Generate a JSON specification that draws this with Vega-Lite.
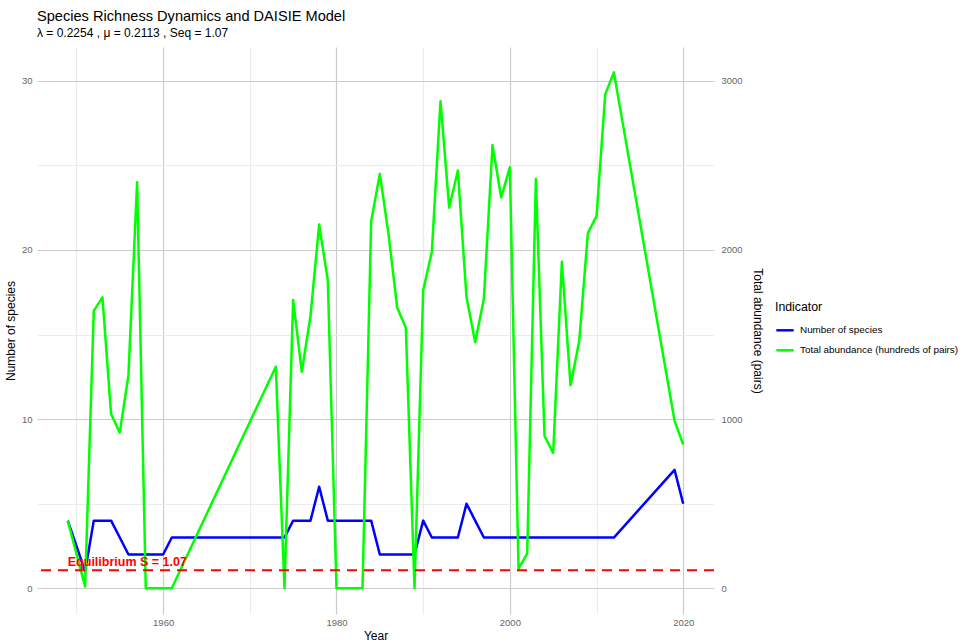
{
  "$schema": "https://vega.github.io/schema/vega-lite/v6.json",
  "width": 677,
  "height": 567,
  "autosize": {"type": "none"},
  "padding": {"left": 37, "top": 47, "right": 249, "bottom": 28},
  "background": "white",
  "config": {
    "font": "Liberation Sans",
    "view": {"stroke": null},
    "axis": {
      "domain": false,
      "ticks": false,
      "labelFontSize": 9.5,
      "labelColor": "#666666",
      "titleFontSize": 12,
      "titleFontWeight": "normal",
      "titleColor": "#000000",
      "gridWidth": 1.2
    }
  },
  "title": {
    "text": "Species Richness Dynamics and DAISIE Model",
    "subtitle": "λ = 0.2254 , μ = 0.2113 , Seq = 1.07",
    "anchor": "start",
    "frame": "group",
    "fontSize": 14.6,
    "fontWeight": "normal",
    "color": "#000000",
    "subtitleFontSize": 12,
    "subtitleColor": "#000000",
    "subtitlePadding": 4,
    "offset": 8
  },
  "datasets": {
    "series": [
      {"year": 1949, "indicator": "Number of species", "value": 4},
      {"year": 1951, "indicator": "Number of species", "value": 1},
      {"year": 1952, "indicator": "Number of species", "value": 4},
      {"year": 1953, "indicator": "Number of species", "value": 4},
      {"year": 1954, "indicator": "Number of species", "value": 4},
      {"year": 1955, "indicator": "Number of species", "value": 3},
      {"year": 1956, "indicator": "Number of species", "value": 2},
      {"year": 1957, "indicator": "Number of species", "value": 2},
      {"year": 1958, "indicator": "Number of species", "value": 2},
      {"year": 1959, "indicator": "Number of species", "value": 2},
      {"year": 1960, "indicator": "Number of species", "value": 2},
      {"year": 1961, "indicator": "Number of species", "value": 3},
      {"year": 1973, "indicator": "Number of species", "value": 3},
      {"year": 1974, "indicator": "Number of species", "value": 3},
      {"year": 1975, "indicator": "Number of species", "value": 4},
      {"year": 1976, "indicator": "Number of species", "value": 4},
      {"year": 1977, "indicator": "Number of species", "value": 4},
      {"year": 1978, "indicator": "Number of species", "value": 6},
      {"year": 1979, "indicator": "Number of species", "value": 4},
      {"year": 1980, "indicator": "Number of species", "value": 4},
      {"year": 1981, "indicator": "Number of species", "value": 4},
      {"year": 1982, "indicator": "Number of species", "value": 4},
      {"year": 1983, "indicator": "Number of species", "value": 4},
      {"year": 1984, "indicator": "Number of species", "value": 4},
      {"year": 1985, "indicator": "Number of species", "value": 2},
      {"year": 1986, "indicator": "Number of species", "value": 2},
      {"year": 1987, "indicator": "Number of species", "value": 2},
      {"year": 1988, "indicator": "Number of species", "value": 2},
      {"year": 1989, "indicator": "Number of species", "value": 2},
      {"year": 1990, "indicator": "Number of species", "value": 4},
      {"year": 1991, "indicator": "Number of species", "value": 3},
      {"year": 1992, "indicator": "Number of species", "value": 3},
      {"year": 1993, "indicator": "Number of species", "value": 3},
      {"year": 1994, "indicator": "Number of species", "value": 3},
      {"year": 1995, "indicator": "Number of species", "value": 5},
      {"year": 1996, "indicator": "Number of species", "value": 4},
      {"year": 1997, "indicator": "Number of species", "value": 3},
      {"year": 1998, "indicator": "Number of species", "value": 3},
      {"year": 1999, "indicator": "Number of species", "value": 3},
      {"year": 2000, "indicator": "Number of species", "value": 3},
      {"year": 2001, "indicator": "Number of species", "value": 3},
      {"year": 2002, "indicator": "Number of species", "value": 3},
      {"year": 2003, "indicator": "Number of species", "value": 3},
      {"year": 2004, "indicator": "Number of species", "value": 3},
      {"year": 2005, "indicator": "Number of species", "value": 3},
      {"year": 2006, "indicator": "Number of species", "value": 3},
      {"year": 2007, "indicator": "Number of species", "value": 3},
      {"year": 2008, "indicator": "Number of species", "value": 3},
      {"year": 2009, "indicator": "Number of species", "value": 3},
      {"year": 2010, "indicator": "Number of species", "value": 3},
      {"year": 2011, "indicator": "Number of species", "value": 3},
      {"year": 2012, "indicator": "Number of species", "value": 3},
      {"year": 2019, "indicator": "Number of species", "value": 7},
      {"year": 2020, "indicator": "Number of species", "value": 5},
      {"year": 1949, "indicator": "Total abundance (hundreds of pairs)", "value": 4.0},
      {"year": 1951, "indicator": "Total abundance (hundreds of pairs)", "value": 0.1},
      {"year": 1952, "indicator": "Total abundance (hundreds of pairs)", "value": 16.4},
      {"year": 1953, "indicator": "Total abundance (hundreds of pairs)", "value": 17.2},
      {"year": 1954, "indicator": "Total abundance (hundreds of pairs)", "value": 10.3},
      {"year": 1955, "indicator": "Total abundance (hundreds of pairs)", "value": 9.2},
      {"year": 1956, "indicator": "Total abundance (hundreds of pairs)", "value": 12.6},
      {"year": 1957, "indicator": "Total abundance (hundreds of pairs)", "value": 24.0},
      {"year": 1958, "indicator": "Total abundance (hundreds of pairs)", "value": 0},
      {"year": 1959, "indicator": "Total abundance (hundreds of pairs)", "value": 0},
      {"year": 1960, "indicator": "Total abundance (hundreds of pairs)", "value": 0},
      {"year": 1961, "indicator": "Total abundance (hundreds of pairs)", "value": 0},
      {"year": 1973, "indicator": "Total abundance (hundreds of pairs)", "value": 13.1},
      {"year": 1974, "indicator": "Total abundance (hundreds of pairs)", "value": 0},
      {"year": 1975, "indicator": "Total abundance (hundreds of pairs)", "value": 17.05},
      {"year": 1976, "indicator": "Total abundance (hundreds of pairs)", "value": 12.8},
      {"year": 1977, "indicator": "Total abundance (hundreds of pairs)", "value": 16.1},
      {"year": 1978, "indicator": "Total abundance (hundreds of pairs)", "value": 21.5},
      {"year": 1979, "indicator": "Total abundance (hundreds of pairs)", "value": 18.2},
      {"year": 1980, "indicator": "Total abundance (hundreds of pairs)", "value": 0},
      {"year": 1981, "indicator": "Total abundance (hundreds of pairs)", "value": 0},
      {"year": 1982, "indicator": "Total abundance (hundreds of pairs)", "value": 0},
      {"year": 1983, "indicator": "Total abundance (hundreds of pairs)", "value": 0},
      {"year": 1984, "indicator": "Total abundance (hundreds of pairs)", "value": 21.7},
      {"year": 1985, "indicator": "Total abundance (hundreds of pairs)", "value": 24.5},
      {"year": 1986, "indicator": "Total abundance (hundreds of pairs)", "value": 20.95},
      {"year": 1987, "indicator": "Total abundance (hundreds of pairs)", "value": 16.6},
      {"year": 1988, "indicator": "Total abundance (hundreds of pairs)", "value": 15.4},
      {"year": 1989, "indicator": "Total abundance (hundreds of pairs)", "value": 0},
      {"year": 1990, "indicator": "Total abundance (hundreds of pairs)", "value": 17.6},
      {"year": 1991, "indicator": "Total abundance (hundreds of pairs)", "value": 19.9},
      {"year": 1992, "indicator": "Total abundance (hundreds of pairs)", "value": 28.8},
      {"year": 1993, "indicator": "Total abundance (hundreds of pairs)", "value": 22.5},
      {"year": 1994, "indicator": "Total abundance (hundreds of pairs)", "value": 24.7},
      {"year": 1995, "indicator": "Total abundance (hundreds of pairs)", "value": 17.2},
      {"year": 1996, "indicator": "Total abundance (hundreds of pairs)", "value": 14.55},
      {"year": 1997, "indicator": "Total abundance (hundreds of pairs)", "value": 17.1},
      {"year": 1998, "indicator": "Total abundance (hundreds of pairs)", "value": 26.2},
      {"year": 1999, "indicator": "Total abundance (hundreds of pairs)", "value": 23.1},
      {"year": 2000, "indicator": "Total abundance (hundreds of pairs)", "value": 24.9},
      {"year": 2001, "indicator": "Total abundance (hundreds of pairs)", "value": 1.16},
      {"year": 2002, "indicator": "Total abundance (hundreds of pairs)", "value": 2.05},
      {"year": 2003, "indicator": "Total abundance (hundreds of pairs)", "value": 24.2},
      {"year": 2004, "indicator": "Total abundance (hundreds of pairs)", "value": 9.0},
      {"year": 2005, "indicator": "Total abundance (hundreds of pairs)", "value": 8.0},
      {"year": 2006, "indicator": "Total abundance (hundreds of pairs)", "value": 19.3},
      {"year": 2007, "indicator": "Total abundance (hundreds of pairs)", "value": 12.0},
      {"year": 2008, "indicator": "Total abundance (hundreds of pairs)", "value": 14.6},
      {"year": 2009, "indicator": "Total abundance (hundreds of pairs)", "value": 21.0},
      {"year": 2010, "indicator": "Total abundance (hundreds of pairs)", "value": 22.0},
      {"year": 2011, "indicator": "Total abundance (hundreds of pairs)", "value": 29.2},
      {"year": 2012, "indicator": "Total abundance (hundreds of pairs)", "value": 30.5},
      {"year": 2019, "indicator": "Total abundance (hundreds of pairs)", "value": 9.9},
      {"year": 2020, "indicator": "Total abundance (hundreds of pairs)", "value": 8.5}
    ],
    "equilibrium": [
      {"year": 1949, "seq": 1.07, "label": "Equilibrium S = 1.07"}
    ]
  },
  "layer": [
    {
      "data": {"name": "series"},
      "mark": {"type": "line", "strokeWidth": 2.5, "strokeJoin": "round"},
      "encoding": {
        "x": {
          "field": "year",
          "type": "quantitative",
          "scale": {"domain": [1945.45, 2023.55], "nice": false, "zero": false},
          "axis": {
            "title": "Year",
            "values": [1950, 1960, 1970, 1980, 1990, 2000, 2010, 2020],
            "format": "d",
            "labelExpr": "datum.value % 20 == 0 ? datum.label : ''",
            "gridColor": {"condition": {"test": "datum.value % 20 == 0", "value": "#cccccc"}, "value": "#ebebeb"},
            "labelPadding": 3,
            "titlePadding": 4
          }
        },
        "y": {
          "field": "value",
          "type": "quantitative",
          "scale": {"domain": [-1.52, 32.0], "nice": false, "zero": false},
          "axis": {
            "title": "Number of species",
            "values": [0, 5, 10, 15, 20, 25, 30],
            "labelExpr": "datum.value % 10 == 0 ? datum.label : ''",
            "gridColor": {"condition": {"test": "datum.value % 10 == 0", "value": "#cccccc"}, "value": "#ebebeb"},
            "labelPadding": 5,
            "titlePadding": 4
          }
        },
        "color": {
          "field": "indicator",
          "type": "nominal",
          "scale": {
            "domain": ["Number of species", "Total abundance (hundreds of pairs)"],
            "range": ["#0000ff", "#00ff00"]
          },
          "legend": {
            "title": "Indicator",
            "orient": "none",
            "legendX": 738,
            "legendY": 254,
            "titleFontSize": 12.3,
            "titleFontWeight": "normal",
            "titleColor": "#000000",
            "titlePadding": 7,
            "labelFontSize": 9.9,
            "labelColor": "#000000",
            "symbolType": "stroke",
            "symbolStrokeWidth": 2.5,
            "symbolSize": 300,
            "rowPadding": 5,
            "labelOffset": 5
          }
        }
      }
    },
    {
      "data": {"name": "equilibrium"},
      "mark": {"type": "rule", "color": "#ff0000", "strokeWidth": 2, "strokeDash": [10, 7]},
      "encoding": {
        "y": {
          "field": "seq",
          "type": "quantitative",
          "axis": {
            "orient": "right",
            "title": "Total abundance (pairs)",
            "titleAngle": 90,
            "values": [0, 10, 20, 30],
            "labelExpr": "format(datum.value * 100, 'd')",
            "grid": false,
            "labelPadding": 7,
            "titlePadding": 8
          }
        }
      }
    },
    {
      "data": {"name": "equilibrium"},
      "mark": {"type": "text", "color": "#ff0000", "fontWeight": "bold", "fontSize": 12.5, "align": "left", "baseline": "alphabetic", "dy": -4},
      "encoding": {
        "x": {"field": "year", "type": "quantitative"},
        "y": {"field": "seq", "type": "quantitative", "axis": null},
        "text": {"field": "label"}
      }
    }
  ],
  "resolve": {"scale": {"y": "shared"}, "axis": {"y": "independent"}}
}
